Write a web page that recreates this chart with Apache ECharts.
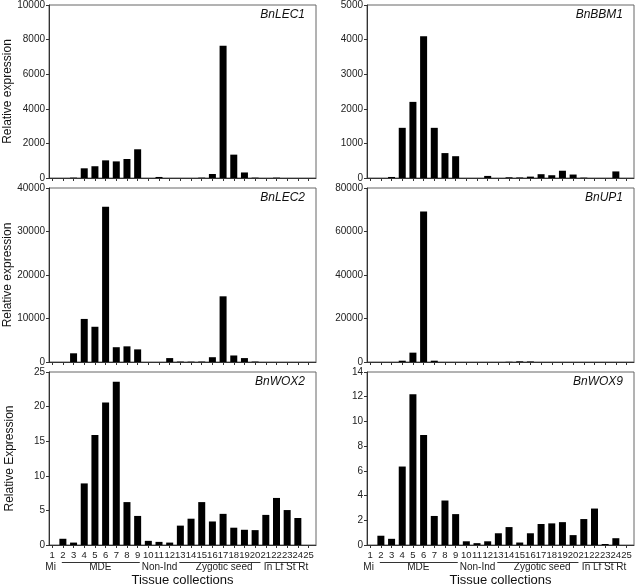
<!DOCTYPE html>
<html>
<head>
<meta charset="utf-8">
<script src="https://cdn.jsdelivr.net/npm/echarts@6/dist/echarts.min.js"></script>
<style>html,body{margin:0;padding:0;background:#fff}#c{width:638px;height:586px}</style>
</head>
<body>
<div id="c"></div>
<script>
// ---- data ----
const categories = [1,2,3,4,5,6,7,8,9,10,11,12,13,14,15,16,17,18,19,20,21,22,23,24,25];
const lec1 = [0,0,20,560,680,1020,960,1100,1660,0,60,0,0,0,20,230,7650,1350,320,20,0,20,0,0,0];
const bbm1 = [0,0,30,1450,2200,4100,1450,720,630,0,0,60,0,20,15,40,110,80,210,100,10,0,0,190,0];
const lec2 = [0,0,2000,9900,8100,35700,3400,3600,2900,0,0,900,100,80,100,1100,15100,1500,900,100,0,0,0,0,0];
const up1  = [0,0,0,600,4300,69200,600,0,0,0,0,0,0,100,300,250,0,0,0,0,0,0,0,0,0];
const wox2 = [0,0.9,0.35,8.9,15.9,20.6,23.6,6.2,4.2,0.6,0.45,0.35,2.8,3.8,6.2,3.4,4.5,2.5,2.2,2.15,4.35,6.8,5.05,3.9,0];
const wox9 = [0,0.75,0.5,6.35,12.2,8.9,2.35,3.6,2.5,0.3,0.15,0.3,0.95,1.45,0.2,0.95,1.7,1.75,1.85,0.8,2.1,2.95,0.08,0.55,0];
const geneNames = ['BnLEC1','BnBBM1','BnLEC2','BnUP1','BnWOX2','BnWOX9'];
const yMax = [10000,5000,40000,80000,25,14];
const yStep = [2000,1000,10000,20000,5,2];
const yNames = ['Relative expression','','Relative expression','','Relative Expression',''];
const groupNames = ['Mi','MDE','Non-Ind','Zygotic seed','In Lf St Rt'];
const groupCenter = [0.85,5.5,11.05,17.1,22.9];
const groupLineStart = [null,1.9,null,12.9,21.0];
const groupLineEnd = [null,9.2,null,20.5,24.6];
const xTitle = 'Tissue collections';
const allSeries = [lec1,bbm1,lec2,up1,wox2,wox9];

// ---- layout ----
const FONT = "'Liberation Sans', Arial, sans-serif";
const lefts = [49,367];
const tops = [5,188,372];
const heights = [173,174,173];
const W = 267;

const chart = echarts.init(document.getElementById('c'), null, {renderer:'canvas'});
const grids=[], xAxes=[], yAxes=[], series=[];
for (let i=0;i<6;i++){
  const col=i%2, row=Math.floor(i/2);
  grids.push({left:lefts[col], top:tops[row], width:W, height:heights[row], show:true,
    borderColor:'#666', borderWidth:1, backgroundColor:'transparent',
    containLabel:false, outerBoundsMode:'none'});
  const bottom = row===2;
  xAxes.push({type:'value', gridIndex:i, min:0.7, max:25.7,
    axisLine:{lineStyle:{color:'#333',width:1}},
    axisTick:{show:true, customValues:categories, length:3, lineStyle:{color:'#333'}},
    axisLabel:{show:bottom, customValues:categories, fontSize:9.5, fontFamily:FONT, color:'#222', margin:5,
      hideOverlap:false, showMaxLabel:true, showMinLabel:true, formatter:v=>String(v)},
    splitLine:{show:false},
    name: bottom? xTitle:'', nameLocation:'middle', nameGap:29,
    nameTextStyle:{fontSize:13, fontFamily:FONT, color:'#111'}
  });
  yAxes.push({type:'value', gridIndex:i, min:0, max:yMax[i], interval:yStep[i],
    axisLine:{show:true, lineStyle:{color:'#333',width:1}},
    axisTick:{show:true, length:3, lineStyle:{color:'#333'}},
    axisLabel:{fontSize:10, fontFamily:FONT, color:'#222', margin:4, formatter:v=>String(v)},
    splitLine:{show:false},
    name:yNames[i], nameLocation:'middle', nameGap:33, nameRotate:90,
    nameTextStyle:{fontSize:12, fontFamily:FONT, color:'#111'}
  });
  series.push({type:'bar', xAxisIndex:i, yAxisIndex:i, barWidth:7,
    itemStyle:{color:'#000'}, silent:true, animation:false,
    data: categories.map((c,k)=>[c, allSeries[i][k]])});
}
chart.setOption({animation:false, grid:grids, xAxis:xAxes, yAxis:yAxes, series:series});

// ---- annotations (gene labels, group labels) ----
const graphics=[];
for (let i=0;i<6;i++){
  const col=i%2, row=Math.floor(i/2);
  graphics.push({type:'text', x:lefts[col]+W-11, y:tops[row]+10,
    style:{text:geneNames[i], font:'italic 12px '+FONT, fill:'#111', textAlign:'right', textVerticalAlign:'middle'}});
}
for (const idx of [4,5]){
  const baseY = tops[2]+heights[2];
  for (let g=0; g<groupNames.length; g++){
    const cx = chart.convertToPixel({xAxisIndex:idx}, groupCenter[g]);
    graphics.push({type:'text', x:cx, y:baseY+22.5,
      style:{text:groupNames[g], font:'10px '+FONT, fill:'#222', textAlign:'center', textVerticalAlign:'middle'}});
    if (groupLineStart[g]!==null){
      const x1 = chart.convertToPixel({xAxisIndex:idx}, groupLineStart[g]);
      const x2 = chart.convertToPixel({xAxisIndex:idx}, groupLineEnd[g]);
      graphics.push({type:'line', shape:{x1:x1, y1:baseY+17.5, x2:x2, y2:baseY+17.5}, style:{stroke:'#333', lineWidth:1}});
    }
  }
}
chart.setOption({graphic:graphics});
</script>
</body>
</html>
